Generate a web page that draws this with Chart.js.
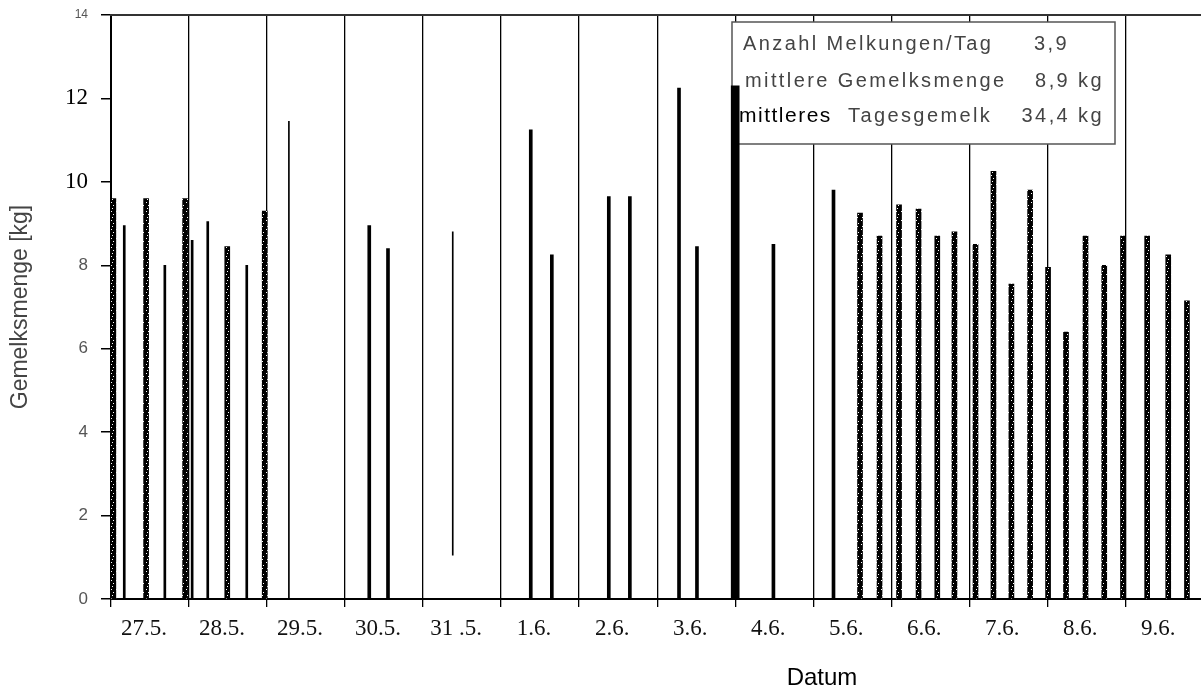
<!DOCTYPE html>
<html>
<head>
<meta charset="utf-8">
<script src="https://cdn.jsdelivr.net/npm/chart.js@4.4.1/dist/chart.umd.min.js"></script>
<style>
  html, body { margin: 0; padding: 0; background: #fff; }
</style>
</head>
<body>
<canvas id="milk" width="1201" height="689"></canvas>
<script>
// Melkungen je Tag, 27.5. - 9.6.

const dayLabels = ['27.5.', '28.5.', '29.5.', '30.5.', '31 .5.', '1.6.', '2.6.', '3.6.', '4.6.', '5.6.', '6.6.', '7.6.', '8.6.', '9.6.'];
const yTickValues = [0, 2, 4, 6, 8, 10, 12, 14];

// time in days since 27.5. 0:00, yield in kg
const rasterTimes  = [0.03, 0.45, 0.95, 1.49, 1.97, 9.60, 9.85, 10.10, 10.35, 10.59, 10.81, 11.08, 11.31, 11.54, 11.78, 12.01, 12.24, 12.49, 12.73, 12.97, 13.28, 13.55, 13.79];
const rasterYields = [9.6, 9.6, 9.6, 8.45, 9.3, 9.25, 8.7, 9.45, 9.35, 8.7, 8.8, 8.5, 10.25, 7.55, 9.8, 7.95, 6.4, 8.7, 8.0, 8.7, 8.7, 8.25, 7.15];

const thinTimes  = [0.17, 0.69, 1.04, 1.24, 1.74];
const thinYields = [8.95, 8.0, 8.6, 9.05, 8.0];

const solidTimes  = [3.31, 3.55, 5.38, 5.65, 6.38, 6.65, 7.28, 7.51, 8.49, 9.26];
const solidYields = [8.95, 8.4, 11.25, 8.25, 9.65, 9.65, 12.25, 8.45, 8.5, 9.8];

const hairTimes  = [2.28, 4.38];
const hairStarts = [0, 1.05];
const hairYields = [11.45, 8.8];

const thickTimes  = [8.00];
const thickYields = [12.3];

const summaryLabels = ['Anzahl Melkungen/Tag', 'mittlere Gemelksmenge', 'mittleres Tagesgemelk'];
const summaryValues = ['3,9', '8,9 kg', '34,4 kg'];

function bars(times, yields, starts) {
  return times.map((t, i) => ({ x: t, y: starts ? [starts[i], yields[i]] : yields[i] }));
}

const canvas = document.getElementById('milk');
const ctx = canvas.getContext('2d');

// speckled fill, looks like the scanned raster bars
const tile = document.createElement('canvas');
tile.width = 5; tile.height = 9;
const tctx = tile.getContext('2d');
tctx.fillStyle = '#000';
tctx.fillRect(0, 0, 5, 9);
tctx.fillStyle = '#fff';
[[2, 1], [1, 4], [3, 7]].forEach(p => tctx.fillRect(p[0], p[1], 1, 1));
const raster = ctx.createPattern(tile, 'repeat');

const notes = {
  id: 'notes',
  beforeDatasetsDraw(chart) {
    const c = chart.ctx;
    c.save();
    // summary box
    c.fillStyle = '#fff';
    c.fillRect(732, 22, 383, 122);
    c.strokeStyle = '#555';
    c.lineWidth = 1.5;
    c.strokeRect(732, 22, 383, 122);

    const rows = [50, 87, 122];
    c.textBaseline = 'alphabetic';
    c.letterSpacing = '2.4px';
    c.font = '20px "Liberation Sans", Arial, sans-serif';
    c.fillStyle = '#444';
    c.textAlign = 'left';
    c.fillText(summaryLabels[0], 743, rows[0]);
    c.fillText(summaryLabels[1], 745, rows[1]);
    const parts = summaryLabels[2].split(' ');
    c.fillText(parts[1], 848, rows[2]);
    c.textAlign = 'right';
    c.fillText(summaryValues[0], 1069, rows[0]);
    c.fillText(summaryValues[1], 1104, rows[1]);
    c.fillText(summaryValues[2], 1104, rows[2]);

    c.letterSpacing = '1.5px';
    c.textAlign = 'left';
    c.fillStyle = '#000';
    c.font = '21px "Liberation Sans", Arial, sans-serif';
    c.fillText(parts[0], 739, rows[2]);
    c.restore();
  },
  afterDraw(chart) {
    const c = chart.ctx;
    const area = chart.chartArea;
    c.save();
    c.strokeStyle = '#333';
    c.lineWidth = 2;
    c.beginPath();
    c.moveTo(area.left - 1, area.top);
    c.lineTo(area.right, area.top);
    c.stroke();

    c.fillStyle = '#000';
    c.font = '24px "Liberation Sans", Arial, sans-serif';
    c.textAlign = 'center';
    c.textBaseline = 'alphabetic';
    c.fillText('Datum', 822, 685);
    c.restore();
  },
};

const barBase = { grouped: false, borderWidth: 0 };

new Chart(canvas, {
  type: 'bar',
  data: {
    datasets: [
      { ...barBase, label: 'Raster', data: bars(rasterTimes, rasterYields), backgroundColor: raster, barThickness: 5 },
      { ...barBase, label: 'dünn', data: bars(thinTimes, thinYields), backgroundColor: '#000', barThickness: 2 },
      { ...barBase, label: 'voll', data: bars(solidTimes, solidYields), backgroundColor: '#000', barThickness: 3 },
      { ...barBase, label: 'Linie', data: bars(hairTimes, hairYields, hairStarts), backgroundColor: '#000', barThickness: 1 },
      { ...barBase, label: 'breit', data: bars(thickTimes, thickYields), backgroundColor: '#000', barThickness: 8 },
    ],
  },
  options: {
    responsive: false,
    animation: false,
    layout: { padding: { top: 15, right: 0, left: 0, bottom: 0 } },
    plugins: {
      legend: { display: false },
      tooltip: { enabled: false },
    },
    scales: {
      x: {
        type: 'linear',
        min: 0,
        max: 13.97,
        offset: false,
        afterBuildTicks: scale => { scale.ticks = dayLabels.map((_, i) => ({ value: i })); },
        afterFit: scale => { scale.height = 90; },
        grid: { offset: false, color: '#000', lineWidth: 1.3, tickLength: 8 },
        border: { display: true, color: '#000', width: 2 },
        ticks: {
          autoSkip: false,
          maxRotation: 0,
          labelOffset: 33,
          padding: 8,
          color: '#111',
          font: { family: '"Liberation Serif", "Times New Roman", serif', size: 23 },
          callback: (v, i) => dayLabels[i],
        },
      },
      y: {
        min: 0,
        max: 14,
        afterBuildTicks: scale => { scale.ticks = yTickValues.map(v => ({ value: v })); },
        afterFit: scale => {
          scale.width = 111;
          scale.paddingTop = 0;
          scale.paddingBottom = 0;
        },
        grid: { drawOnChartArea: false, color: '#000', lineWidth: 1.5, tickLength: 10 },
        border: { display: true, color: '#000', width: 2 },
        ticks: {
          padding: 13,
          color: c => (c.tick && c.tick.value >= 10 && c.tick.value < 14) ? '#000' : '#555',
          font: c => {
            const v = c.tick ? c.tick.value : 0;
            if (v >= 10 && v < 14) return { family: '"Liberation Serif", "Times New Roman", serif', size: 23 };
            return { family: '"Liberation Sans", Arial, sans-serif', size: v === 14 ? 12 : 17 };
          },
        },
        title: {
          display: true,
          text: 'Gemelksmenge [kg]',
          color: '#444',
          font: { family: '"Liberation Sans", Arial, sans-serif', size: 23 },
          padding: { top: 7, bottom: 0 },
        },
      },
    },
  },
  plugins: [notes],
});
</script>
</body>
</html>
